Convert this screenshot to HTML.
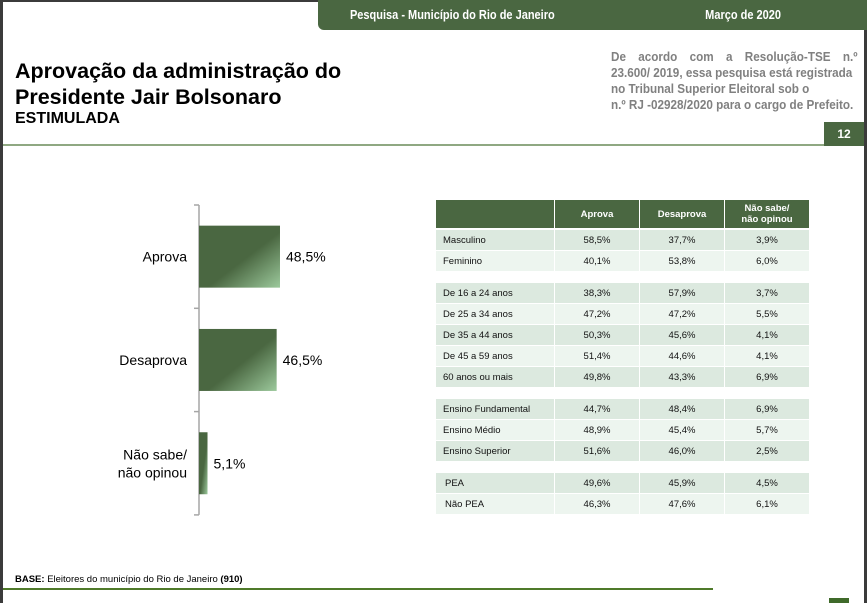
<!DOCTYPE html>
<html><head><meta charset="utf-8">
<style>
html,body{margin:0;padding:0;}
body{width:867px;height:603px;position:relative;overflow:hidden;background:#fff;font-family:"Liberation Sans",sans-serif;}
.abs{position:absolute;}
#frame{left:0;top:0;width:867px;height:603px;box-sizing:border-box;border-left:3px solid #3b3b3b;border-right:3px solid #3b3b3b;border-top:2px solid #3b3b3b;}
#topbar{left:318px;top:0;width:549px;height:30px;background:#4a6741;border-bottom-left-radius:6px;color:#fff;font-weight:bold;font-size:12.5px;}
.tcell{position:absolute;top:0;height:30px;line-height:30px;text-align:center;}
.note-line{display:block;white-space:nowrap;}
</style></head><body>
<div id="frame" class="abs"></div>
<div id="topbar" class="abs">
  <div class="tcell" style="left:0;width:269px;"><span style="display:inline-block;transform:scaleX(0.88);">Pesquisa - Município do Rio de Janeiro</span></div>
  <div class="tcell" style="left:360px;width:130px;"><span style="display:inline-block;transform:scaleX(0.88);">Março de 2020</span></div>
</div>
<div class="abs" style="left:15px;top:58px;font-size:21.5px;font-weight:bold;line-height:26px;color:#000;">Aprovação da administração do<br>Presidente Jair Bolsonaro</div>
<div class="abs" style="left:15px;top:110px;font-size:16px;font-weight:bold;color:#000;">ESTIMULADA</div>
<div class="abs" style="left:611px;top:49px;width:274px;font-size:13px;font-weight:bold;color:#808080;line-height:16px;transform:scaleX(0.9);transform-origin:0 0;">
<span class="note-line" style="display:flex;justify-content:space-between;"><span>De</span><span>acordo</span><span>com</span><span>a</span><span>Resolução-TSE</span><span>n.º</span></span>
<span class="note-line">23.600/ 2019, essa pesquisa está registrada</span>
<span class="note-line">no Tribunal Superior Eleitoral sob o</span>
<span class="note-line">n.º RJ -02928/2020 para o cargo de Prefeito.</span>
</div>
<div class="abs" style="left:3px;top:144px;width:821px;height:2px;background:#8fa882;"></div>
<div class="abs" style="left:824px;top:122px;width:40px;height:24px;background:#4a6741;color:#fff;font-weight:bold;font-size:12px;line-height:24px;text-align:center;">12</div>

<svg class="abs" style="left:0;top:0" width="867" height="603">
<defs>
<linearGradient id="g" x1="0" y1="0" x2="1" y2="1">
<stop offset="0" stop-color="#4a6741"/><stop offset="0.55" stop-color="#4a6741"/><stop offset="1" stop-color="#9cc99c"/>
</linearGradient>
</defs>
<g id="chart"></g>
</svg>

<div class="abs" style="left:436px;top:200px;" id="tbl"></div>

<div class="abs" style="left:15px;top:574px;font-size:9.5px;color:#000;"><b>BASE:</b> Eleitores do município do Rio de Janeiro <b>(910)</b></div>
<div class="abs" style="left:3px;top:588px;width:710px;height:2px;background:#4f7a2a;"></div>
<div class="abs" style="left:829px;top:598px;width:20px;height:5px;background:#3f6a2a;"></div>

<script>
const categories = ["Aprova", "Desaprova", "Não sabe/\nnão opinou"];
const values = [48.5, 46.5, 5.1];
const valueLabels = ["48,5%", "46,5%", "5,1%"];

const NS = "http://www.w3.org/2000/svg";
const g = document.getElementById("chart");
const x0 = 199, top0 = 205, bandH = 103.3, pxPer = 1.67, barH = 62;
const xs = v => x0 + v * pxPer;
const yBand = i => top0 + i * bandH;
function mk(tag, attrs){const e=document.createElementNS(NS,tag);for(const k in attrs)e.setAttribute(k,attrs[k]);return e;}
const axis = mk("line",{x1:x0,x2:x0,y1:top0,y2:top0+bandH*categories.length,stroke:"#a6a6a6","stroke-width":1.5});


g.appendChild(axis);
for(let i=0;i<=categories.length;i++){
  const t = mk("line",{x1:x0-5,x2:x0,y1:yBand(i),y2:yBand(i),stroke:"#a6a6a6","stroke-width":1.5});
  
  
  g.appendChild(t);
}
categories.forEach((c,i)=>{
  const cy = yBand(i)+bandH/2;
  const r = mk("rect",{x:x0,y:cy-barH/2,width:xs(values[i])-x0,height:barH,fill:"url(#g)"});
  
  
  g.appendChild(r);
  const lines = c.split("\n");
  const lab = mk("text",{x:187,y:cy+5-(lines.length-1)*9,"text-anchor":"end","font-size":14,fill:"#000","font-family":"Liberation Sans, sans-serif"});
  lines.forEach((l,j)=>{const ts=mk("tspan",{x:187,dy:j?18:0});ts.textContent=l;lab.appendChild(ts);});
  
  
  g.appendChild(lab);
  const vl = mk("text",{x:xs(values[i])+6,y:cy+5,"font-size":14,fill:"#000","font-family":"Liberation Sans, sans-serif"});
  vl.textContent = valueLabels[i];
  
  
  g.appendChild(vl);
});

const rowGroups = [
  [["Masculino","58,5%","37,7%","3,9%"],["Feminino","40,1%","53,8%","6,0%"]],
  [["De 16 a 24 anos","38,3%","57,9%","3,7%"],["De 25 a 34 anos","47,2%","47,2%","5,5%"],["De 35 a 44 anos","50,3%","45,6%","4,1%"],["De 45 a 59 anos","51,4%","44,6%","4,1%"],["60 anos ou mais","49,8%","43,3%","6,9%"]],
  [["Ensino Fundamental","44,7%","48,4%","6,9%"],["Ensino Médio","48,9%","45,4%","5,7%"],["Ensino Superior","51,6%","46,0%","2,5%"]],
  [[" PEA","49,6%","45,9%","4,5%"],[" Não PEA","46,3%","47,6%","6,1%"]]
];
const headers = ["","Aprova","Desaprova","Não sabe/\nnão opinou"];
const colW = [118,84,84,84];
const tbl = document.getElementById("tbl");
function cell(txt,left,top,w,h,bg,color,bold,align,name,pad){
  const d=document.createElement("div");
  d.style.cssText=`position:absolute;left:${left}px;top:${top}px;width:${w}px;height:${h}px;background:${bg};color:${color};font-size:9.5px;${bold?'font-weight:bold;':''}display:flex;align-items:center;justify-content:${align};text-align:center;white-space:pre;line-height:11px;box-sizing:border-box;${align==='flex-start'?'padding-left:'+pad+'px;':''}`;
  d.textContent=txt;
  
  
  tbl.appendChild(d);
}
let lx=0;
headers.forEach((h,j)=>{cell(h,lx,0,colW[j],28,"#4a6741","#fff",true,"center","table-header-cell",0);lx+=colW[j]+1;});
let y=30;
rowGroups.forEach((grp,gi)=>{
  grp.forEach((row,ri)=>{
    const bg = ri%2===0 ? "#dce9df" : "#edf5ef";
    let x=0;
    row.forEach((v,j)=>{cell(v.trim(),x,y,colW[j],20,bg,"#111",false,j===0?"flex-start":"center",j===0?"table-row-label":"table-value-cell",v.startsWith(" ")?9:7);x+=colW[j]+1;});
    y+=21;
  });
  y+=11;
});
</script>
</body></html>
